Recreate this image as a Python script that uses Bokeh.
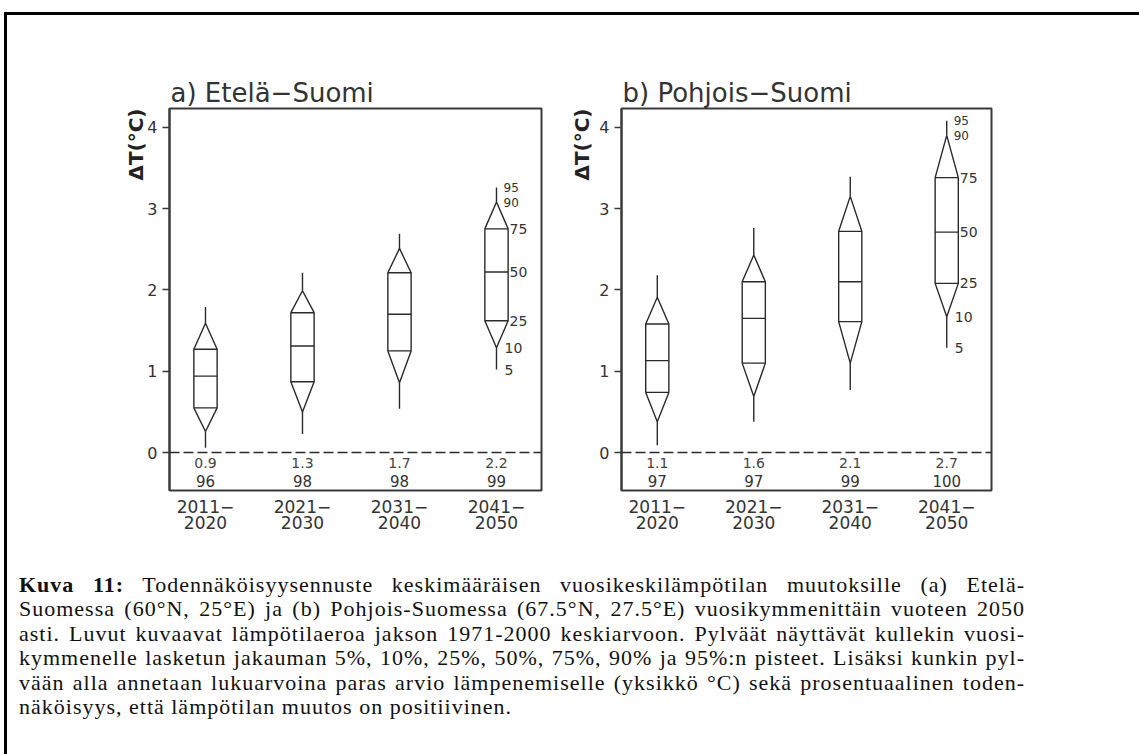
import numpy as np
from bokeh.plotting import figure
from bokeh.models import Span, Title, FixedTicker, Range1d, Div
from bokeh.layouts import row, column
from bokeh.embed import file_html
from bokeh.resources import INLINE
from bokeh.core.properties import value

# ---------------- data ----------------
positions = [1, 2, 3, 4]
periods = ["2011\u2212\n2020", "2021\u2212\n2030", "2031\u2212\n2040", "2041\u2212\n2050"]
percentile_names = ["5", "10", "25", "50", "75", "90", "95"]

# a) Etelä-Suomi
south_p5 = [0.06, 0.23, 0.54, 1.02]
south_p10 = [0.26, 0.50, 0.86, 1.29]
south_p25 = [0.55, 0.87, 1.25, 1.62]
south_p50 = [0.94, 1.31, 1.70, 2.22]
south_p75 = [1.27, 1.72, 2.21, 2.75]
south_p90 = [1.59, 1.99, 2.51, 3.08]
south_p95 = [1.79, 2.21, 2.69, 3.26]
south_best = ["0.9", "1.3", "1.7", "2.2"]
south_prob = ["96", "98", "98", "99"]

# b) Pohjois-Suomi
north_p5 = [0.09, 0.38, 0.77, 1.29]
north_p10 = [0.38, 0.69, 1.10, 1.67]
north_p25 = [0.74, 1.10, 1.61, 2.08]
north_p50 = [1.13, 1.65, 2.10, 2.71]
north_p75 = [1.58, 2.10, 2.72, 3.38]
north_p90 = [1.91, 2.43, 3.15, 3.90]
north_p95 = [2.18, 2.76, 3.39, 4.08]
north_best = ["1.1", "1.6", "2.1", "2.7"]
north_prob = ["97", "97", "99", "100"]

caption_lines = [
    "<b>Kuva 11:</b> Todennäköisyysennuste keskimääräisen vuosikeskilämpötilan muutoksille (a) Etelä-",
    "Suomessa (60°N, 25°E) ja (b) Pohjois-Suomessa (67.5°N, 27.5°E) vuosikymmenittäin vuoteen 2050",
    "asti. Luvut kuvaavat lämpötilaeroa jakson 1971-2000 keskiarvoon. Pylväät näyttävät kullekin vuosi-",
    "kymmenelle lasketun jakauman 5%, 10%, 25%, 50%, 75%, 90% ja 95%:n pisteet. Lisäksi kunkin pyl-",
    "vään alla annetaan lukuarvoina paras arvio lämpenemiselle (yksikkö °C) sekä prosentuaalinen toden-",
    "näköisyys, että lämpötilan muutos on positiivinen.",
]

# ---------------- style ----------------
FONT = "DejaVu Sans"
TXT = "#333333"
LC = "#2a2a2a"
LW = 1.4
BOX_W = 0.24
X_START, X_END = 0.629, 4.464
Y_START, Y_END = -0.466, 4.23


def make_panel(title, q, best, prob, width, height, bl, br, bt, bb, ylab_standoff):
    p5, p10, p25, p50, p75, p90, p95 = [np.array(v, dtype=float) for v in q]
    x = np.array(positions, dtype=float)
    p = figure(width=width, height=height,
               x_range=Range1d(X_START, X_END), y_range=Range1d(Y_START, Y_END),
               output_backend="svg", toolbar_location=None,
               min_border_left=bl, min_border_right=br,
               min_border_top=bt, min_border_bottom=bb)
    p.background_fill_color = "white"
    p.border_fill_color = "white"
    p.outline_line_color = "#3a3a3a"
    p.outline_line_width = 2
    p.xgrid.visible = False
    p.ygrid.visible = False

    # title
    p.title.text = title
    p.title.align = "left"
    p.title.text_font = FONT
    p.title.text_font_size = "26px"
    p.title.text_font_style = "normal"
    p.title.text_color = TXT
    p.title.standoff = 2
    p.title.offset = 1

    # axes
    p.yaxis.ticker = FixedTicker(ticks=[0, 1, 2, 3, 4])
    p.yaxis.minor_tick_line_color = None
    p.yaxis.major_tick_in = 0
    p.yaxis.major_tick_out = 7
    p.yaxis.major_tick_line_color = "#3a3a3a"
    p.yaxis.major_tick_line_width = 1.5
    p.yaxis.axis_line_color = "#3a3a3a"
    p.yaxis.axis_line_width = 2
    p.yaxis.major_label_text_font = FONT
    p.yaxis.major_label_text_font_size = "16px"
    p.yaxis.major_label_text_color = TXT
    p.yaxis.major_label_standoff = 5

    p.add_layout(Title(text="\u0394T(\u00b0C)", align="right", offset=0,
                       standoff=ylab_standoff, text_font=FONT,
                       text_font_size="20px", text_font_style="bold",
                       text_color="#222222"), "left")

    p.xaxis.ticker = FixedTicker(ticks=positions)
    p.xaxis.major_label_overrides = {pos: lab for pos, lab in zip(positions, periods)}
    p.xaxis.axis_line_color = None
    p.xaxis.major_tick_line_color = None
    p.xaxis.minor_tick_line_color = None
    p.xaxis.major_label_text_font = FONT
    p.xaxis.major_label_text_font_size = "17px"
    p.xaxis.major_label_text_color = TXT
    p.xaxis.major_label_text_line_height = 0.8
    p.xaxis.major_label_standoff = 0

    # zero line
    p.add_layout(Span(location=0, dimension="width", line_color=LC,
                      line_width=1.5, line_dash="10 4"))

    # boxes
    left = x - BOX_W / 2
    right = x + BOX_W / 2
    p.quad(left=left, right=right, bottom=p25, top=p75,
           fill_color=None, line_color=LC, line_width=LW)
    p.segment(x0=left, x1=right, y0=p50, y1=p50, line_color=LC, line_width=LW)
    # triangles
    p.multi_line(xs=[[l, c, r] for l, c, r in zip(left, x, right)],
                 ys=[[a, b, a] for a, b in zip(p75, p90)],
                 line_color=LC, line_width=LW)
    p.multi_line(xs=[[l, c, r] for l, c, r in zip(left, x, right)],
                 ys=[[a, b, a] for a, b in zip(p25, p10)],
                 line_color=LC, line_width=LW)
    # whiskers
    p.segment(x0=x, x1=x, y0=p90, y1=p95, line_color=LC, line_width=LW)
    p.segment(x0=x, x1=x, y0=p10, y1=p5, line_color=LC, line_width=LW)

    # percentile labels on last box
    last = len(positions) - 1
    vals = [p5[last], p10[last], p25[last], p50[last], p75[last], p90[last], p95[last]]
    edge_idx = [2, 3, 4]
    tip_idx = [0, 1]
    top_idx = [5, 6]
    p.text(x=[x[last]] * 3, y=[vals[i] for i in edge_idx],
           text=[percentile_names[i] for i in edge_idx],
           x_offset=13, text_baseline="middle", text_align="left",
           text_font=value(FONT), text_font_size="14px", text_color=TXT)
    p.text(x=[x[last]] * 2, y=[vals[i] for i in tip_idx],
           text=[percentile_names[i] for i in tip_idx],
           x_offset=8, text_baseline="middle", text_align="left",
           text_font=value(FONT), text_font_size="14px", text_color=TXT)
    p.text(x=[x[last]] * 2, y=[vals[i] for i in top_idx],
           text=[percentile_names[i] for i in top_idx],
           x_offset=7, text_baseline="middle", text_align="left",
           text_font=value(FONT), text_font_size="12px", text_color=TXT)

    # best estimate and probability under each box
    p.text(x=x, y=[-0.123] * 4, text=best, text_align="center",
           text_baseline="middle", text_font=value(FONT),
           text_font_size="14px", text_color="#444444")
    p.text(x=x, y=[-0.355] * 4, text=prob, text_align="center",
           text_baseline="middle", text_font=value(FONT),
           text_font_size="15px", text_color="#333333")
    return p


pa = make_panel("a) Etel\u00e4\u2212Suomi",
                [south_p5, south_p10, south_p25, south_p50, south_p75, south_p90, south_p95],
                south_best, south_prob,
                width=564, height=544, bl=169, br=23, bt=107, bb=54,
                ylab_standoff=-6)
pb = make_panel("b) Pohjois\u2212Suomi",
                [north_p5, north_p10, north_p25, north_p50, north_p75, north_p90, north_p95],
                north_best, north_prob,
                width=566, height=544, bl=56, br=139, bt=108, bb=53,
                ylab_standoff=6)

line_html = []
for i, ln in enumerate(caption_lines):
    align = "left" if i == len(caption_lines) - 1 else "justify"
    line_html.append(
        f'<div style="text-align:{align};text-align-last:{align};white-space:nowrap;">{ln}</div>')

frame_html = ('<div style="position:fixed;left:4px;top:12px;width:1200px;height:2000px;'
              'border-top:3px solid #000;border-left:3px solid #000;pointer-events:none;"></div>')
caption = Div(
    text=(frame_html +
          '<div style="font-family:\'Liberation Serif\',serif;font-size:22px;letter-spacing:1px;'
          'line-height:24.4px;color:#111;width:1020px;padding-left:14px;padding-top:24px;">'
          + "".join(line_html) + "</div>"),
    width=1120, height=190)

root = column(row(pa, pb), caption)

open("out.html", "w").write(file_html(root, INLINE))
